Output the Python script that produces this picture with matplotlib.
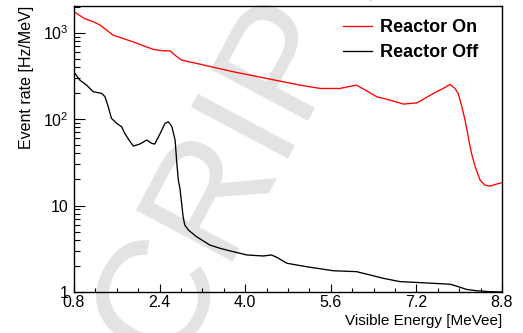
import numpy as np
import matplotlib
matplotlib.use('Agg')
import matplotlib.pyplot as plt
from matplotlib.ticker import FixedLocator, LogLocator, NullFormatter

plt.rcParams['font.family'] = ['Liberation Sans', 'DejaVu Sans']
plt.rcParams['mathtext.fontset'] = 'custom'
plt.rcParams['mathtext.rm'] = 'Liberation Sans'
plt.rcParams['mathtext.it'] = 'Liberation Sans'

# --- data ---
e_on = [0.8, 1.0, 1.16, 1.29, 1.53, 1.9, 2.28, 2.45, 2.6, 2.7, 2.81, 3.15, 3.78,
        4.4, 5.02, 5.4, 5.77, 5.95, 6.08, 6.27, 6.46, 6.64, 6.96, 7.21, 7.52,
        7.70, 7.83, 7.92, 7.98, 8.05, 8.11, 8.17, 8.23, 8.30, 8.39, 8.48, 8.58,
        8.70, 8.8]
rate_on = [1740, 1450, 1333, 1220, 935, 783, 640, 617, 613, 540, 481, 432, 352,
           295, 247, 226, 226, 238, 247, 212, 181, 170, 149, 154, 198,
           226, 252, 226, 198, 139, 97, 62, 40, 28, 19.7, 17.2, 16.8,
           17.7, 18.4]

e_off = [0.8, 0.91, 1.04, 1.16, 1.32, 1.38, 1.44, 1.50, 1.60, 1.69, 1.75, 1.85,
         1.91, 2.03, 2.16, 2.25, 2.31, 2.41, 2.50, 2.56, 2.59, 2.63, 2.69, 2.72,
         2.75, 2.78, 2.84, 2.87, 2.94, 3.09, 3.34, 3.53, 3.65, 4.03, 4.34, 4.49,
         4.59, 4.78, 5.15, 5.65, 6.08, 6.27, 6.58, 6.89, 7.52, 7.83, 7.95, 8.14,
         8.32, 8.57, 8.8]
rate_off = [350, 282, 245, 207, 198, 181, 139, 102, 89, 81.5, 68, 54.7,
            48.7, 51.4, 57.2, 52.4, 51.4, 68, 89, 93, 89, 81.5, 57, 32,
            19.7, 15.8, 7.4, 5.95, 5.2, 4.36, 3.49, 3.2, 3.06, 2.68, 2.61, 2.68,
            2.52, 2.15, 1.96, 1.76, 1.72, 1.61, 1.44, 1.32, 1.26, 1.23, 1.17, 1.07,
            1.035, 1.01, 1.0]

x_major = [0.8, 2.4, 4.0, 5.6, 7.2, 8.8]
x_labels = ['0.8', '2.4', '4.0', '5.6', '7.2', '8.8']
y_major = [1, 10, 100, 1000]
y_labels = ['1', '10', '$10^{2}$', '$10^{3}$']

fig = plt.figure(figsize=(5.23, 3.33), dpi=100)
ax = fig.add_axes([74/523, 1 - 292/333, 428/523, 286/333])
ax.set_facecolor('none')

# watermark behind the plot
fig.text(0.2755, -0.2195, 'MANUSCRIPT', rotation=62, rotation_mode='anchor',
         color='#e3e3e3', fontsize=115, ha='center', va='baseline', zorder=-1)

ax.plot(e_on, rate_on, color='#ff0000', lw=0.95, label='Reactor On')
ax.plot(e_off, rate_off, color='black', lw=0.95, label='Reactor Off')

ax.set_yscale('log')
ax.set_xlim(0.8, 8.8)
ax.set_ylim(1, 2030)

ax.xaxis.set_major_locator(FixedLocator(x_major))
ax.set_xticklabels(x_labels)
ax.xaxis.set_minor_locator(FixedLocator(np.arange(0.8, 8.81, 0.4)))
ax.yaxis.set_major_locator(FixedLocator(y_major))
ax.set_yticklabels(y_labels)
ax.yaxis.set_minor_locator(LogLocator(base=10, subs=np.arange(2, 10)))
ax.yaxis.set_minor_formatter(NullFormatter())

ax.tick_params(axis='x', which='major', direction='in', length=6, width=0.8,
               labelsize=11.5, pad=2)
ax.tick_params(axis='x', which='minor', direction='in', length=3, width=0.8)
ax.tick_params(axis='y', which='major', direction='in', length=8, width=0.8,
               labelsize=11.5, pad=4)
ax.tick_params(axis='y', which='minor', direction='in', length=4, width=0.8)
for s in ax.spines.values():
    s.set_linewidth(1.0)

ax.set_xlabel('Visible Energy [MeVee]', fontsize=11, loc='right', labelpad=3)
ax.set_ylabel('Event rate [Hz/MeV]', fontsize=11.5, loc='top', labelpad=6)

ax.legend(loc='upper right', bbox_to_anchor=(0.945, 0.953), frameon=False,
          prop={'weight': 'bold', 'size': 13}, handlelength=1.6,
          handletextpad=0.45, labelspacing=0.42, borderpad=0, borderaxespad=0)

fig.savefig('out.png', dpi=100)
